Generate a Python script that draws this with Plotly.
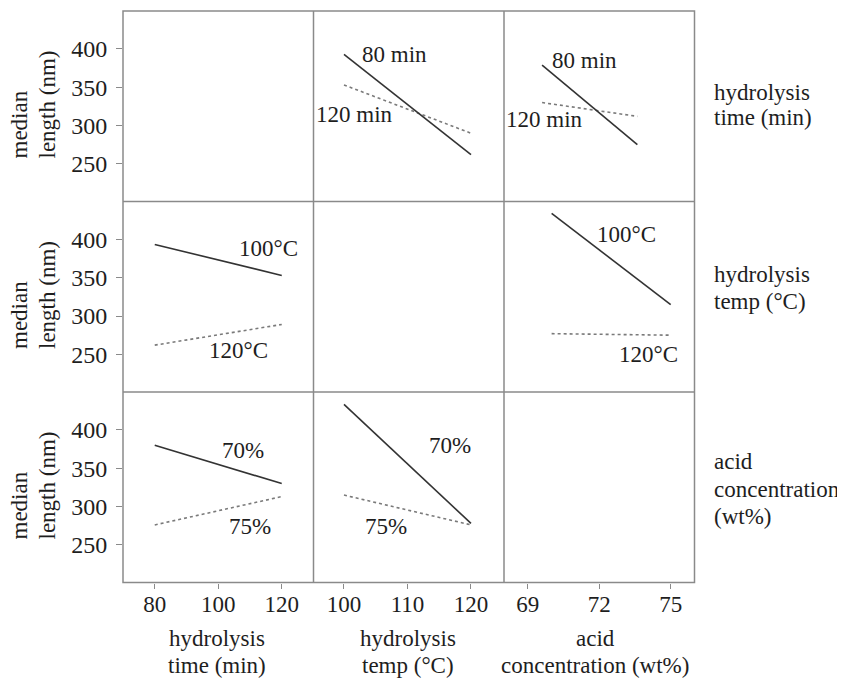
import plotly.graph_objects as go

W, H = 837, 673          # page body has an 8px margin
OFF = 8
FONT = "Liberation Serif"
TXT = "#1e1e1e"
FRAME = "#8a8a8a"

# ---- data ----
time_x = [80, 120]            # hydrolysis time (min)
temp_x = [100, 120]           # hydrolysis temp (°C)
acid_x_top = [69.6, 73.6]     # acid concentration (wt%), as drawn in row 1
acid_x_mid = [70, 75]         # acid concentration (wt%), as drawn in row 2

# row 1: lines by hydrolysis time
r1c2_80min = [393, 262]
r1c2_120min = [353, 290]
r1c3_80min = [379, 275]
r1c3_120min = [330, 312]
# row 2: lines by hydrolysis temp
r2c1_100C = [393.5, 353]
r2c1_120C = [262, 289]
r2c3_100C = [434, 315]
r2c3_120C = [277, 275]
# row 3: lines by acid concentration
r3c1_70 = [380, 330]
r3c1_75 = [276, 313]
r3c2_70 = [433.5, 278]
r3c2_75 = [315, 276]

y_ticks = [250, 300, 350, 400]
x_ticks = [[80, 100, 120], [100, 110, 120], [69, 72, 75]]
x_ranges = [[70, 130], [95.2, 125.2], [68, 76]]
y_range = [200.8, 449.6]

row_labels = [["hydrolysis", "time (min)"], ["hydrolysis", "temp (°C)"],
              ["acid", "concentration", "(wt%)"]]
col_labels = [["hydrolysis", "time (min)"], ["hydrolysis", "temp (°C)"],
              ["acid", "concentration (wt%)"]]

# ---- layout geometry (page pixels) ----
xs = [123, 313.5, 504, 694.5]
ys = [11, 201.5, 392, 582.5]

def px(x):
    return (x - OFF) / W

def py(y):
    return 1 - (y - OFF) / H

fig = go.Figure()
layout = dict(width=W, height=H, margin=dict(l=0, r=0, t=0, b=0),
              autosize=False, paper_bgcolor="white", plot_bgcolor="white",
              showlegend=False, font=dict(family=FONT, color=TXT, size=22))

for r in range(3):
    for c in range(3):
        i = r * 3 + c + 1
        xk = "xaxis" if i == 1 else f"xaxis{i}"
        yk = "yaxis" if i == 1 else f"yaxis{i}"
        xa = dict(domain=[px(xs[c]), px(xs[c + 1])], range=x_ranges[c],
                  showgrid=False, zeroline=False, showline=False,
                  anchor=f"y{'' if i == 1 else i}", fixedrange=True)
        ya = dict(domain=[py(ys[r + 1]), py(ys[r])], range=y_range,
                  showgrid=False, zeroline=False, showline=False,
                  anchor=f"x{'' if i == 1 else i}", fixedrange=True)
        if r == 2:
            xa.update(tickmode="array", tickvals=x_ticks[c], ticks="outside",
                      ticklen=5, tickcolor=FRAME, tickwidth=1.2,
                      ticklabelstandoff=-4,
                      tickfont=dict(size=23, family=FONT, color=TXT))
        else:
            xa.update(showticklabels=False, ticks="")
        if c == 0:
            ya.update(tickmode="array", tickvals=y_ticks, ticks="outside",
                      ticklen=6, tickcolor=FRAME, tickwidth=1.2,
                      ticklabelstandoff=4,
                      tickfont=dict(size=24, family=FONT, color=TXT))
        else:
            ya.update(showticklabels=False, ticks="")
        layout[xk] = xa
        layout[yk] = ya

def ax(r, c):
    i = r * 3 + c + 1
    s = "" if i == 1 else str(i)
    return "x" + s, "y" + s

SOLID = dict(color="#333333", width=1.6)
DOT = dict(color="#7a7a7a", width=1.6, dash="dot")

panels = [
    (0, 1, temp_x, r1c2_80min, r1c2_120min),
    (0, 2, acid_x_top, r1c3_80min, r1c3_120min),
    (1, 0, time_x, r2c1_100C, r2c1_120C),
    (1, 2, acid_x_mid, r2c3_100C, r2c3_120C),
    (2, 0, time_x, r3c1_70, r3c1_75),
    (2, 1, temp_x, r3c2_70, r3c2_75),
]
for r, c, xv, s1, s2 in panels:
    xa_, ya_ = ax(r, c)
    fig.add_trace(go.Scatter(x=xv, y=s2, mode="lines", line=DOT,
                             xaxis=xa_, yaxis=ya_, hoverinfo="skip"))
    fig.add_trace(go.Scatter(x=xv, y=s1, mode="lines", line=SOLID,
                             xaxis=xa_, yaxis=ya_, hoverinfo="skip"))
# empty diagonal panels (keep their axes alive)
for r, c in [(0, 0), (1, 1), (2, 2)]:
    xa_, ya_ = ax(r, c)
    fig.add_trace(go.Scatter(x=[None], y=[None], mode="lines",
                             xaxis=xa_, yaxis=ya_, hoverinfo="skip"))

# frame: outer box and dividers
shapes = [dict(type="rect", xref="paper", yref="paper",
               x0=px(xs[0]), x1=px(xs[3]), y0=py(ys[3]), y1=py(ys[0]),
               line=dict(color=FRAME, width=1.5))]
for x in xs[1:3]:
    shapes.append(dict(type="line", xref="paper", yref="paper",
                       x0=px(x), x1=px(x), y0=py(ys[3]), y1=py(ys[0]),
                       line=dict(color=FRAME, width=1.5)))
for y in ys[1:3]:
    shapes.append(dict(type="line", xref="paper", yref="paper",
                       x0=px(xs[0]), x1=px(xs[3]), y0=py(y), y1=py(y),
                       line=dict(color=FRAME, width=1.5)))
layout["shapes"] = shapes

annotations = []

def txt(text, x, y, size=23, xanchor="center", yanchor="middle", angle=0):
    annotations.append(dict(text=text, x=px(x), y=py(y), xref="paper", yref="paper",
                            showarrow=False, xanchor=xanchor, yanchor=yanchor,
                            textangle=angle,
                            font=dict(family=FONT, size=size, color=TXT)))

# line labels
line_labels = [
    ("80 min", 394, 54.7), ("120 min", 354, 114.7),
    ("80 min", 584, 61), ("120 min", 544, 120),
    ("100°C", 268, 248.3), ("120°C", 238.5, 350.5),
    ("100°C", 626, 234.3), ("120°C", 648, 354.7),
    ("70%", 243, 450.5), ("75%", 250, 526),
    ("70%", 450, 445), ("75%", 386, 526.7),
]
for t, x, y in line_labels:
    txt(t, x, y)

# y-axis titles (rotated, bottom aligned)
for r in range(3):
    ybot = 160.5 + 190.5 * r
    txt("median", 19, ybot, angle=-90, yanchor="bottom")
    txt("length (nm)", 47, ybot, angle=-90, yanchor="bottom")

# right-hand row labels
row_line_y = [[92, 118], [275, 301], [461, 489, 516]]
for lines, ys_ in zip(row_labels, row_line_y):
    for t, y in zip(lines, ys_):
        txt(t, 712, y, xanchor="left")

# bottom column labels
for lines, cx in zip(col_labels, [217, 407.5, 595]):
    for t, y in zip(lines, [638, 665]):
        txt(t, cx, y)

layout["annotations"] = annotations
fig.update_layout(**layout)
fig.write_html("out.html")
